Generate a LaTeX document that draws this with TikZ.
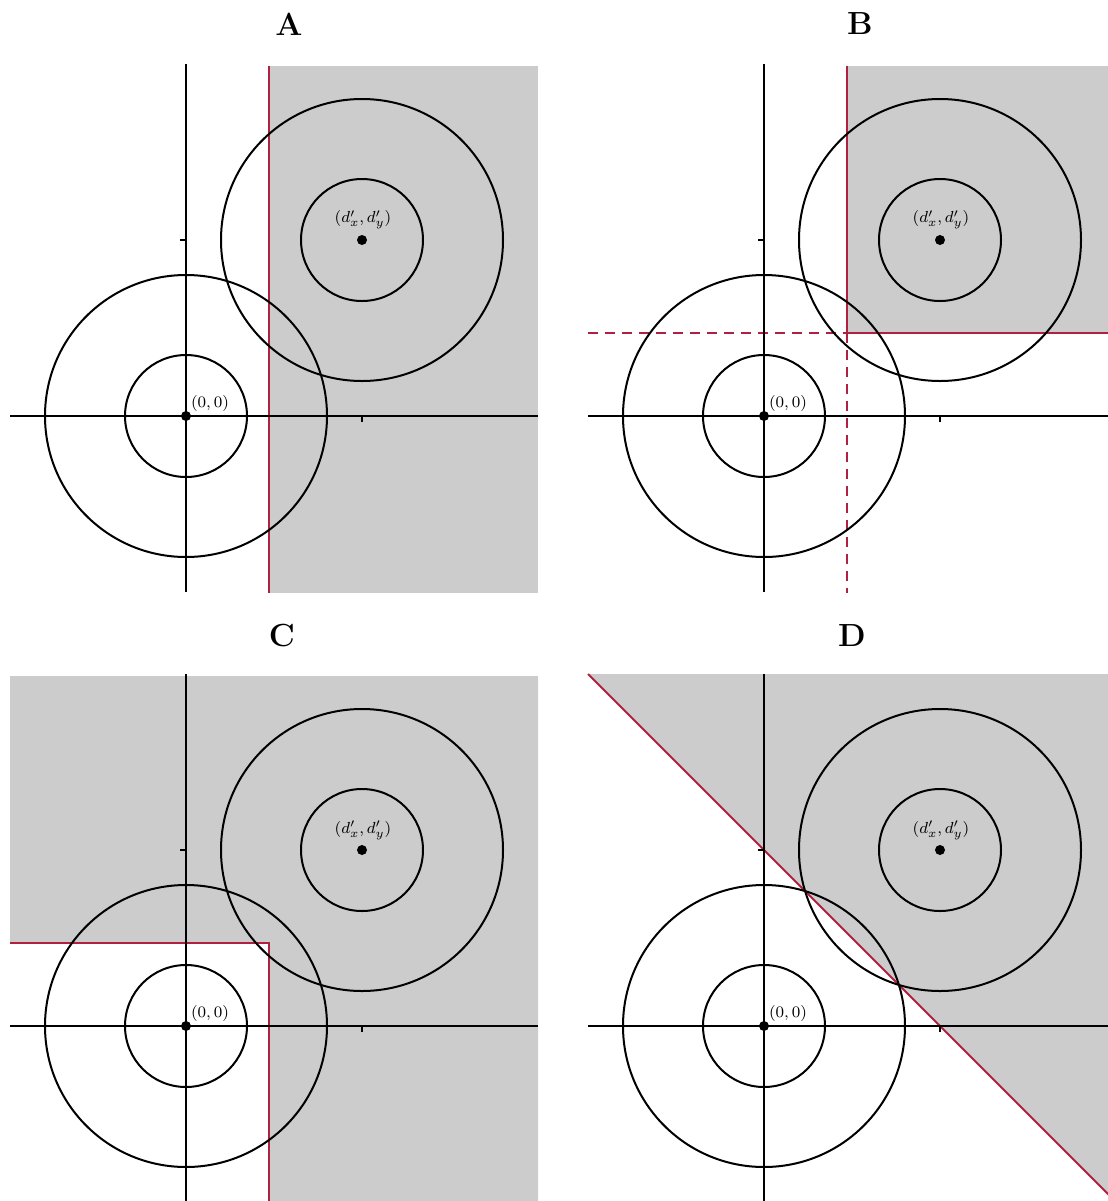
\documentclass[tikz,border=0pt]{standalone}
\definecolor{myred}{RGB}{176,32,64}
\definecolor{shadegray}{RGB}{204,204,204}
\newcommand\drawpanelbase[1]{%
  % axes
  \draw[axis] (-176,0) -- (352,0);
  \draw[axis] (0,-352) -- (0,176);
  \draw[axis] (176,0) -- (176,6);
  \draw[axis] (0,-176) -- (-6,-176);
  % circles
  \node[ring, minimum size=122pt*0.5] (#1so) at (0,0) {};
  \node[ring, minimum size=282pt*0.5] (#1lo) at (0,0) {};
  \node[ring, minimum size=122pt*0.5] (#1sd) at (176,-176) {};
  \node[ring, minimum size=282pt*0.5] (#1ld) at (176,-176) {};
  % points
  \node[dot] (#1o) at (0,0) {};
  \node[dot] (#1d) at (176,-176) {};
  \node[lbl] (#1ol) at (24,-13) {$(0,0)$};
  \node[lbl] (#1dl) at (177,-196) {$(d'_x,d'_y)$};
}
\begin{document}
\begin{tikzpicture}[x=0.5pt,y=-0.5pt,
  axis/.style={black, line width=1pt},
  ring/.style={circle, draw=black, line width=1pt, inner sep=0pt},
  redline/.style={myred, line width=1pt},
  reddash/.style={myred, line width=1pt, dash pattern=on 5pt off 3.5pt},
  region/.style={fill=shadegray, draw=none},
  dot/.style={circle, fill=black, inner sep=0pt, minimum size=5pt},
  lbl/.style={font=\fontsize{8.5}{10}\selectfont, inner sep=0pt},
  ttl/.style={font=\fontsize{16}{18}\selectfont\bfseries, inner sep=0pt}]
\useasboundingbox (0,0) rectangle (1108,1201);
\clip (0,0) rectangle (1108,1201);

% titles
\node[ttl] (tA) at (289,24) {A};
\node[ttl] (tB) at (860,24) {B};
\node[ttl] (tC) at (282,636) {C};
\node[ttl] (tD) at (852,636) {D};

% Panel A
\begin{scope}[shift={(186,416)}]
  \fill[region] (83,-350) rectangle (352,177);
  \draw[redline] (83,-350) -- (83,177);
  \drawpanelbase{a}
\end{scope}

% Panel B
\begin{scope}[shift={(764,416)}]
  \fill[region] (83,-350) rectangle (352,-83);
  \draw[reddash] (-176,-83) -- (83,-83);
  \draw[reddash] (83,-83) -- (83,177);
  \draw[redline] (83,-350) -- (83,-83) -- (352,-83);
  \drawpanelbase{b}
\end{scope}

% Panel C
\begin{scope}[shift={(186,1026)}]
  \fill[region] (-176,-350) -- (352,-350) -- (352,177) -- (83,177) -- (83,-83) -- (-176,-83) -- cycle;
  \draw[redline] (-176,-83) -- (83,-83) -- (83,177);
  \drawpanelbase{c}
\end{scope}

% Panel D
\begin{scope}[shift={(764,1026)}]
  \fill[region] (-176,-352) -- (352,-352) -- (352,176) -- cycle;
  \draw[redline] (-176,-352) -- (352,176);
  \drawpanelbase{d}
\end{scope}
\end{tikzpicture}
\end{document}
